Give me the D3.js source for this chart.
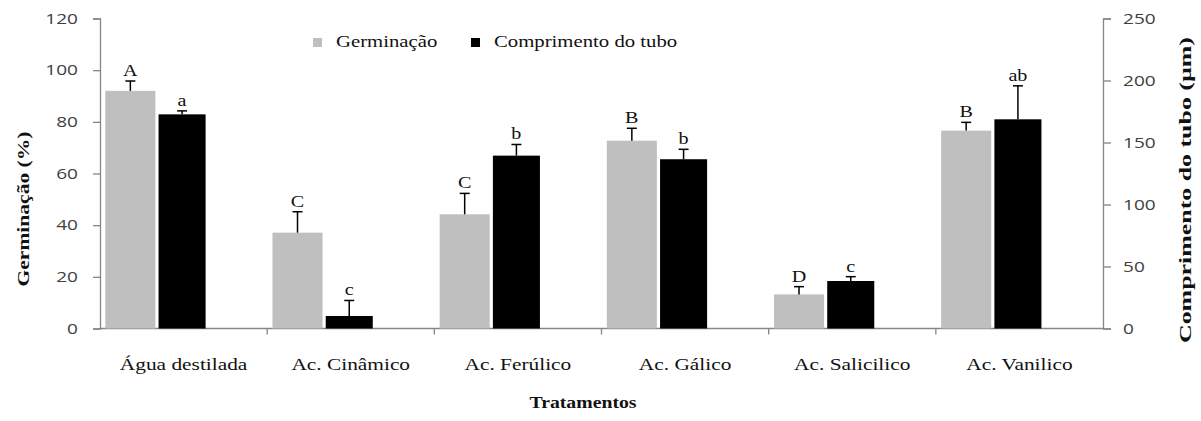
<!DOCTYPE html>
<html>
<head>
<meta charset="utf-8">
<script src="https://cdn.jsdelivr.net/npm/d3@7"></script>
<style>
  body { margin: 0; background: #fff; }
  svg { display: block; }
</style>
</head>
<body>
<svg width="1201" height="421"></svg>
<script>
// data
const categories = ['Água destilada', 'Ac. Cinâmico', 'Ac. Ferúlico', 'Ac. Gálico', 'Ac. Salicilico', 'Ac. Vanilico'];
const germinacao = [92.0, 37.1, 44.2, 72.7, 13.2, 76.6];
const germErr = [3.8, 8.1, 8.1, 4.8, 3.0, 3.2];
const germLetters = ['A', 'C', 'C', 'B', 'D', 'B'];
const comprimento = [172.7, 10.1, 139.4, 136.5, 38.3, 168.7];
const compErr = [2.8, 12.5, 9.0, 8.0, 3.5, 27.0];
const compLetters = ['a', 'c', 'b', 'b', 'c', 'ab'];
const leftTicks = [0, 20, 40, 60, 80, 100, 120];
const rightTicks = [0, 50, 100, 150, 200, 250];

const svg = d3.select('svg');
const margin = {left: 100, top: 18.5, right: 98, bottom: 92.5};
const width = +svg.attr('width') - margin.left - margin.right;
const height = +svg.attr('height') - margin.top - margin.bottom;

const g = svg.append('g')
  .attr('transform', `translate(${margin.left},${margin.top})`);

const x = d3.scaleBand().domain(categories).range([0, width]);
// two bars per group plus an empty slot, like the excel layout
const xs = d3.scaleBand().domain([0, 1, 2]).range([0, x.bandwidth()])
  .paddingInner(0.06).paddingOuter(0.1);

const yL = d3.scaleLinear().domain([0, 120]).range([height, 0]);
const yR = d3.scaleLinear().domain([0, 250]).range([height, 0]);

const axisColor = '#868686';
const tickFont = '"Open Sans", Lato, sans-serif';
const serif = '"Liberation Serif", "DejaVu Serif", serif';

// the original text is drawn wide, stretch it horizontally
function stretch(sel, k) {
  sel.each(function() {
    const w = this.getComputedTextLength();
    d3.select(this).attr('textLength', w * k).attr('lengthAdjust', 'spacingAndGlyphs');
  });
}

// left axis
const leftAxis = g.append('g').call(d3.axisLeft(yL).tickValues(leftTicks).tickSize(7).tickPadding(15));
// right axis
const rightAxis = g.append('g').attr('transform', `translate(${width},0)`)
  .call(d3.axisRight(yR).tickValues(rightTicks).tickSize(8).tickPadding(12));
[leftAxis, rightAxis].forEach(a => {
  a.select('.domain').attr('stroke', axisColor).attr('stroke-width', 1.3);
  a.selectAll('.tick line').attr('stroke', axisColor).attr('stroke-width', 1.3);
  a.selectAll('.tick text').attr('fill', '#404040')
    .style('font-family', tickFont).style('font-size', '15px');
  stretch(a.selectAll('.tick text'), 1.27);
});

// x axis with ticks between categories
const xAxisG = g.append('g').attr('transform', `translate(0,${height})`);
xAxisG.append('line').attr('x1', 0).attr('x2', width)
  .attr('stroke', axisColor).attr('stroke-width', 1.3);
xAxisG.selectAll('.sep').data(categories.slice(1)).enter().append('line')
  .attr('x1', d => x(d)).attr('x2', d => x(d))
  .attr('y1', 0).attr('y2', 6)
  .attr('stroke', axisColor).attr('stroke-width', 1.3);
const catText = xAxisG.selectAll('.cat').data(categories).enter().append('text')
  .attr('x', d => x(d) + x.bandwidth() / 2)
  .attr('y', 41.5)
  .attr('text-anchor', 'middle')
  .style('font-family', serif).style('font-size', '17.5px')
  .attr('fill', '#111')
  .text(d => d);
stretch(catText, 1.22);

// bars
const rows = categories.map((c, i) => ({c, i}));
g.selectAll('.germ').data(rows).enter().append('rect')
  .attr('x', d => x(d.c) + xs(0))
  .attr('width', xs.bandwidth())
  .attr('y', d => yL(germinacao[d.i]))
  .attr('height', d => height - yL(germinacao[d.i]))
  .attr('fill', '#bfbfbf');
g.selectAll('.comp').data(rows).enter().append('rect')
  .attr('x', d => x(d.c) + xs(1))
  .attr('width', xs.bandwidth() - 3)
  .attr('y', d => yR(comprimento[d.i]))
  .attr('height', d => height - yR(comprimento[d.i]))
  .attr('fill', '#000');

// error bars (upper only) and letters
function errBars(vals, errs, letters, scale, slot, wAdj) {
  const cx = d => x(d.c) + xs(slot) + (xs.bandwidth() - wAdj) / 2;
  const eg = g.append('g');
  eg.selectAll('.v').data(rows).enter().append('line')
    .attr('x1', cx).attr('x2', cx)
    .attr('y1', d => scale(vals[d.i]))
    .attr('y2', d => scale(vals[d.i] + errs[d.i]))
    .attr('stroke', '#000').attr('stroke-width', 1.5);
  eg.selectAll('.cap').data(rows).enter().append('line')
    .attr('x1', d => cx(d) - 5).attr('x2', d => cx(d) + 5)
    .attr('y1', d => scale(vals[d.i] + errs[d.i]))
    .attr('y2', d => scale(vals[d.i] + errs[d.i]))
    .attr('stroke', '#000').attr('stroke-width', 1.5);
  const lt = eg.selectAll('.lt').data(rows).enter().append('text')
    .attr('x', cx)
    .attr('y', d => scale(vals[d.i] + errs[d.i]) - 5)
    .attr('text-anchor', 'middle')
    .style('font-family', serif).style('font-size', '17.5px')
    .attr('fill', '#111')
    .text(d => letters[d.i]);
  stretch(lt, 1.15);
}
errBars(germinacao, germErr, germLetters, yL, 0, 0);
errBars(comprimento, compErr, compLetters, yR, 1, 3);

// axis titles
const titleStyle = sel => sel
  .attr('text-anchor', 'middle')
  .style('font-family', serif).style('font-size', '17px').style('font-weight', 'bold')
  .attr('fill', '#111')
  .attr('lengthAdjust', 'spacingAndGlyphs');
svg.append('text')
  .attr('transform', 'translate(29,209) rotate(-90)')
  .call(titleStyle)
  .attr('textLength', 155)
  .text('Germinação (%)');
svg.append('text')
  .attr('transform', 'translate(1191,190) rotate(-90)')
  .call(titleStyle)
  .attr('textLength', 306)
  .text('Comprimento do tubo (µm)');
svg.append('text')
  .attr('x', 583).attr('y', 408)
  .call(titleStyle)
  .attr('textLength', 107)
  .text('Tratamentos');

// legend
const legendItems = [
  {label: 'Germinação', color: '#bfbfbf', x: 313},
  {label: 'Comprimento do tubo', color: '#000', x: 471}
];
const lg = svg.append('g');
lg.selectAll('rect').data(legendItems).enter().append('rect')
  .attr('x', d => d.x).attr('y', 38).attr('width', 9).attr('height', 9)
  .attr('fill', d => d.color);
const legText = lg.selectAll('text').data(legendItems).enter().append('text')
  .attr('x', d => d.x + 23).attr('y', 46.5)
  .style('font-family', serif).style('font-size', '17px')
  .attr('fill', '#111')
  .text(d => d.label);
stretch(legText, 1.22);
</script>
</body>
</html>
